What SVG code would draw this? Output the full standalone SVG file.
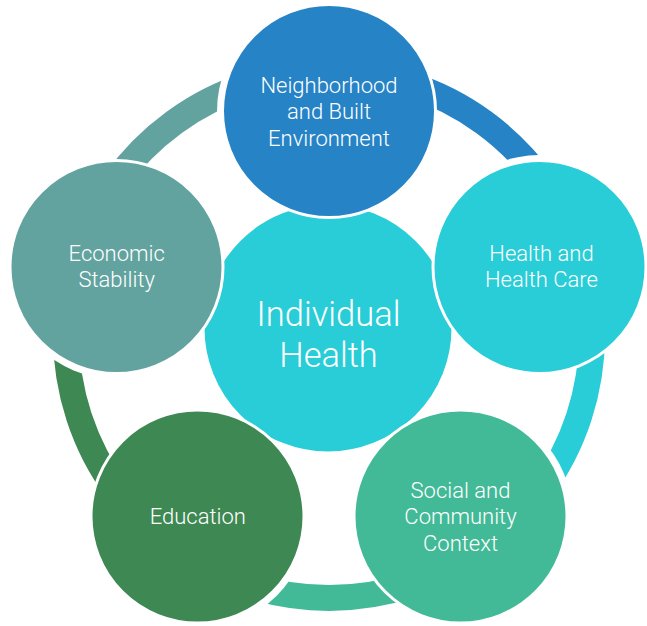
<svg xmlns="http://www.w3.org/2000/svg" width="647" height="626" viewBox="0 0 647 626">
<style>
.arc{fill:none;stroke-width:26;stroke-linecap:butt}
.node{stroke:#ffffff;stroke-width:3}
.lbl{font-family:Roboto,"Liberation Sans",sans-serif;font-size:22px;font-weight:300;fill:#ffffff;text-anchor:middle}
.big{font-family:Roboto,"Liberation Sans",sans-serif;font-size:34.5px;font-weight:300;fill:#ffffff;text-anchor:middle}
</style>
<defs>
<mask id="mTop" maskUnits="userSpaceOnUse" x="0" y="0" width="647" height="626"><rect width="647" height="626" fill="#fff"/><circle cx="329" cy="111" r="112" fill="#000"/></mask>
<mask id="mRight" maskUnits="userSpaceOnUse" x="0" y="0" width="647" height="626"><rect width="647" height="626" fill="#fff"/><circle cx="539.5" cy="267" r="112" fill="#000"/></mask>
<mask id="mBR" maskUnits="userSpaceOnUse" x="0" y="0" width="647" height="626"><rect width="647" height="626" fill="#fff"/><circle cx="460.5" cy="516.5" r="112" fill="#000"/></mask>
<mask id="mBL" maskUnits="userSpaceOnUse" x="0" y="0" width="647" height="626"><rect width="647" height="626" fill="#fff"/><circle cx="197.5" cy="516.5" r="112" fill="#000"/></mask>
<mask id="mLeft" maskUnits="userSpaceOnUse" x="0" y="0" width="647" height="626"><rect width="647" height="626" fill="#fff"/><circle cx="116.5" cy="267" r="112" fill="#000"/></mask>
</defs>
<g id="connectors">
<path class="arc" stroke="#62A39F" mask="url(#mTop)" d="M78.7,254.2 A263,263 0 0 1 329,72"/>
<path class="arc" stroke="#2683C6" mask="url(#mRight)" d="M329,72 A263,263 0 0 1 579.3,254.2"/>
<path class="arc" stroke="#29CDD7" mask="url(#mBR)" d="M579.3,254.2 A263,263 0 0 1 483.2,548"/>
<path class="arc" stroke="#42BA97" mask="url(#mBL)" d="M483.2,548 A263,263 0 0 1 174.8,548"/>
<path class="arc" stroke="#3E8853" mask="url(#mLeft)" d="M174.8,548 A263,263 0 0 1 78.7,254.2"/>
</g>
<g id="center">
<circle class="node" cx="328" cy="328" r="125" fill="#29CDD7"/>
<text class="big" x="328.5" y="326">Individual</text>
<text class="big" x="328.5" y="366.5">Health</text>
</g>
<g id="neighborhood">
<circle class="node" cx="329" cy="111" r="106.5" fill="#2683C6"/>
<text class="lbl" x="329" y="92.7">Neighborhood</text>
<text class="lbl" x="329" y="119.3">and Built</text>
<text class="lbl" x="329" y="146">Environment</text>
</g>
<g id="healthcare">
<circle class="node" cx="539.5" cy="267" r="106.5" fill="#29CDD7"/>
<text class="lbl" x="541.5" y="261">Health and</text>
<text class="lbl" x="541.5" y="287">Health Care</text>
</g>
<g id="social">
<circle class="node" cx="460.5" cy="516.5" r="106.5" fill="#42BA97"/>
<text class="lbl" x="460.5" y="497.7">Social and</text>
<text class="lbl" x="460.5" y="524.3">Community</text>
<text class="lbl" x="460.5" y="550.7">Context</text>
</g>
<g id="education">
<circle class="node" cx="197.5" cy="516.5" r="106.5" fill="#3E8853"/>
<text class="lbl" x="197.8" y="524">Education</text>
</g>
<g id="economic">
<circle class="node" cx="116.5" cy="267" r="106.5" fill="#62A39F"/>
<text class="lbl" x="116.7" y="261">Economic</text>
<text class="lbl" x="116.7" y="287">Stability</text>
</g>
</svg>
